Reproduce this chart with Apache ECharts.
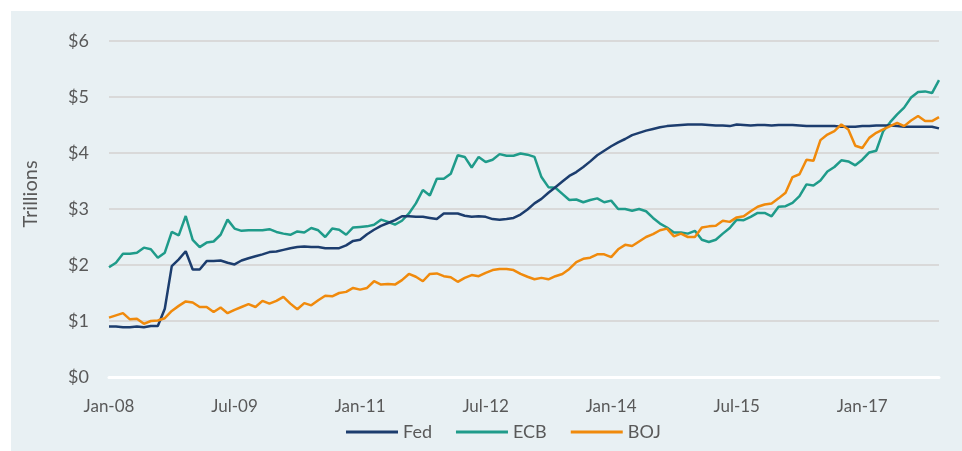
<!DOCTYPE html>
<html>
<head>
<meta charset="utf-8">
<title>Central bank balance sheets</title>
<script src="https://cdn.jsdelivr.net/npm/echarts@6/dist/echarts.min.js"></script>
<style>
  html, body { margin: 0; padding: 0; background: #fff; }
  .panel {
    position: absolute;
    left: 11px;
    top: 11px;
    width: 951px;
    height: 440px;
    background: #e8f0f3;
  }
  #chart {
    position: absolute;
    left: 0;
    top: 0;
    width: 962px;
    height: 451px;
  }
</style>
</head>
<body>
<div class="panel"></div>
<div id="chart"></div>
<script>
// monthly, Jan-08 .. Dec-17 (trillions of US$)
const startYear = 2008
const monthCount = 120
const monthNames = ['Jan', 'Feb', 'Mar', 'Apr', 'May', 'Jun', 'Jul', 'Aug', 'Sep', 'Oct', 'Nov', 'Dec']

const fedData = [
  0.90, 0.90, 0.89, 0.89, 0.90, 0.89, 0.91, 0.91, 1.22, 1.98, 2.10, 2.245,
  1.92, 1.92, 2.07, 2.07, 2.08, 2.04, 2.01, 2.08, 2.12, 2.155, 2.19, 2.23,
  2.24, 2.27, 2.30, 2.32, 2.33, 2.32, 2.32, 2.30, 2.30, 2.30, 2.35, 2.43,
  2.45, 2.55, 2.63, 2.70, 2.75, 2.80, 2.87, 2.87, 2.86, 2.86, 2.84, 2.82,
  2.92, 2.92, 2.92, 2.88, 2.86, 2.87, 2.86, 2.82, 2.81, 2.82, 2.84, 2.90,
  2.99, 3.10, 3.18, 3.29, 3.39, 3.49, 3.59, 3.66, 3.75, 3.85, 3.96, 4.04,
  4.12, 4.19, 4.25, 4.32, 4.36, 4.40, 4.43, 4.46, 4.48, 4.49, 4.50, 4.51,
  4.51, 4.51, 4.50, 4.49, 4.49, 4.48, 4.51, 4.50, 4.49, 4.50, 4.50, 4.49,
  4.50, 4.50, 4.50, 4.49, 4.48, 4.48, 4.48, 4.48, 4.48, 4.47, 4.47, 4.47,
  4.48, 4.48, 4.49, 4.49, 4.49, 4.48, 4.47, 4.47, 4.47, 4.47, 4.47, 4.44
]

const ecbData = [
  1.96, 2.04, 2.20, 2.20, 2.22, 2.31, 2.28, 2.13, 2.22, 2.59, 2.53, 2.875,
  2.45, 2.32, 2.40, 2.42, 2.54, 2.81, 2.65, 2.61, 2.62, 2.62, 2.62, 2.64,
  2.59, 2.56, 2.54, 2.60, 2.58, 2.66, 2.62, 2.50, 2.65, 2.63, 2.54, 2.67,
  2.68, 2.69, 2.72, 2.81, 2.77, 2.72, 2.79, 2.92, 3.10, 3.34, 3.24, 3.54,
  3.54, 3.63, 3.96, 3.93, 3.74, 3.93, 3.84, 3.88, 3.98, 3.95, 3.95, 3.99,
  3.97, 3.93, 3.57, 3.39, 3.38, 3.27, 3.16, 3.17, 3.12, 3.16, 3.19, 3.12,
  3.15, 3.00, 3.00, 2.97, 3.00, 2.96, 2.84, 2.74, 2.67, 2.58, 2.58, 2.56,
  2.61, 2.45, 2.41, 2.45, 2.56, 2.66, 2.81, 2.80, 2.86, 2.93, 2.93, 2.87,
  3.04, 3.05, 3.11, 3.23, 3.44, 3.42, 3.51, 3.67, 3.75, 3.87, 3.85, 3.78,
  3.88, 4.01, 4.04, 4.39, 4.55, 4.69, 4.81, 4.99, 5.09, 5.10, 5.07, 5.30
]

const bojData = [
  1.06, 1.10, 1.14, 1.03, 1.04, 0.95, 1.00, 1.01, 1.05, 1.18, 1.27, 1.35,
  1.33, 1.25, 1.25, 1.16, 1.24, 1.14, 1.20, 1.25, 1.30, 1.25, 1.36, 1.31,
  1.36, 1.43, 1.31, 1.21, 1.32, 1.28, 1.37, 1.45, 1.44, 1.50, 1.52, 1.59,
  1.56, 1.59, 1.71, 1.65, 1.66, 1.65, 1.73, 1.84, 1.79, 1.71, 1.84, 1.85,
  1.80, 1.78, 1.70, 1.77, 1.82, 1.80, 1.86, 1.91, 1.93, 1.93, 1.91, 1.84,
  1.79, 1.745, 1.77, 1.745, 1.80, 1.84, 1.93, 2.05, 2.11, 2.13, 2.19, 2.19,
  2.14, 2.28, 2.36, 2.34, 2.42, 2.50, 2.55, 2.62, 2.65, 2.51, 2.56, 2.50,
  2.50, 2.67, 2.69, 2.70, 2.79, 2.77, 2.85, 2.87, 2.96, 3.04, 3.08, 3.10,
  3.19, 3.29, 3.57, 3.62, 3.88, 3.86, 4.23, 4.33, 4.39, 4.51, 4.42, 4.13,
  4.09, 4.27, 4.36, 4.42, 4.48, 4.54, 4.48, 4.58, 4.66, 4.57, 4.57, 4.64
]

// 'Jan-08', 'Feb-08', ...
const categories = []
for (let i = 0; i < monthCount; i++) {
  const yy = String((startYear + Math.floor(i / 12)) % 100).padStart(2, '0')
  categories.push(monthNames[i % 12] + '-' + yy)
}

const textColor = '#595959'
const fontName = 'Lato'

const chartInstance = echarts.init(document.getElementById('chart'), null, { renderer: 'canvas' })

const option = {
  backgroundColor: 'transparent',
  animation: false,
  textStyle: { fontFamily: fontName },
  grid: {
    left: 109,
    right: 23,
    top: 41,
    bottom: 74
  },
  legend: {
    bottom: 5,
    left: 341,
    icon: 'rect',
    itemWidth: 52,
    itemHeight: 3,
    itemGap: 24,
    textStyle: { color: textColor, fontSize: 18, fontFamily: fontName },
    data: ['Fed', 'ECB', 'BOJ']
  },
  xAxis: {
    type: 'category',
    boundaryGap: false,
    data: categories,
    axisLine: { lineStyle: { color: '#ffffff', width: 3 } },
    axisTick: { show: false },
    axisLabel: {
      interval: 17,
      color: textColor,
      fontSize: 17,
      margin: 21,
      fontFamily: fontName
    },
    splitLine: { show: false }
  },
  yAxis: {
    type: 'value',
    min: 0,
    max: 6,
    interval: 1,
    name: 'Trillions',
    nameLocation: 'middle',
    nameGap: 68,
    nameTextStyle: {
      color: textColor,
      fontSize: 20,
      fontFamily: fontName,
      padding: [0, 0, 0, 30]
    },
    axisLine: { show: false },
    axisTick: { show: false },
    axisLabel: {
      color: textColor,
      fontSize: 18,
      margin: 20,
      fontFamily: fontName,
      formatter: function (v) { return '$' + v }
    },
    splitLine: { lineStyle: { color: '#d9d9d9', width: 2 } }
  },
  series: [
    {
      name: 'Fed',
      type: 'line',
      data: fedData,
      symbol: 'none',
      color: '#1c3d6e',
      lineStyle: { width: 2.5, color: '#1c3d6e' },
      z: 3
    },
    {
      name: 'ECB',
      type: 'line',
      data: ecbData,
      symbol: 'none',
      color: '#1f9b8a',
      lineStyle: { width: 2.5, color: '#1f9b8a' },
      z: 2
    },
    {
      name: 'BOJ',
      type: 'line',
      data: bojData,
      symbol: 'none',
      color: '#f08a0c',
      lineStyle: { width: 2.5, color: '#f08a0c' },
      z: 4
    }
  ]
}

chartInstance.setOption(option)
</script>
</body>
</html>
